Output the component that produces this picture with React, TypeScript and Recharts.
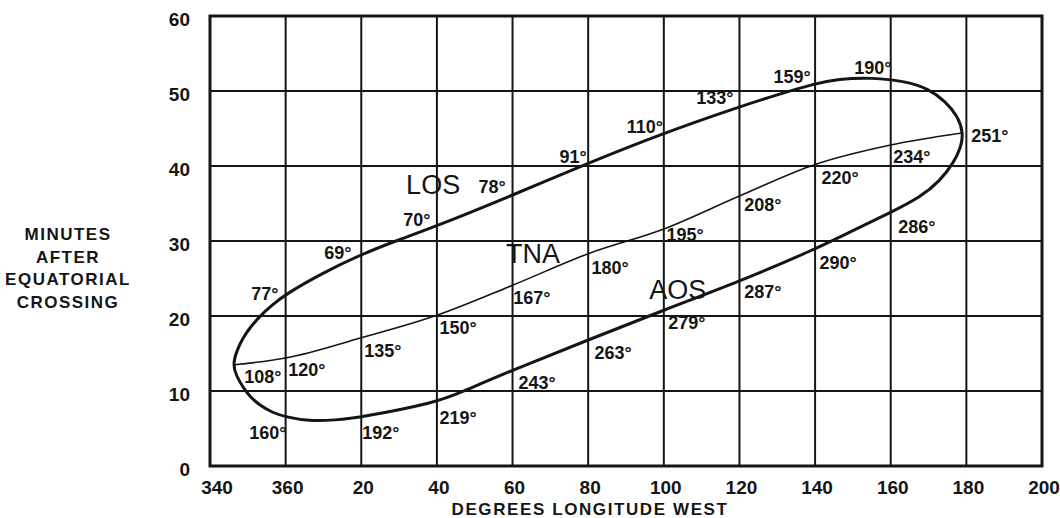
import React from 'react';
import { ComposedChart, Line, Scatter, XAxis, YAxis, CartesianGrid, ReferenceArea } from 'recharts';

// Longitude is unwrapped: 340, 360, then 380 = 20°W ... 560 = 200°W
const X_TICKS = [340, 360, 380, 400, 420, 440, 460, 480, 500, 520, 540, 560];
const Y_TICKS = [0, 10, 20, 30, 40, 50, 60];
const X_TITLE = 'DEGREES LONGITUDE WEST';
const Y_TITLE = ['MINUTES', 'AFTER', 'EQUATORIAL', 'CROSSING'];

// Outer closed contour: AOS (lower) -> right end -> LOS (upper) -> left end
const contour = [
  { v: 440, m: 16.8 },
  { v: 460, m: 20.8 },
  { v: 480, m: 24.6 },
  { v: 500, m: 28.9 },
  { v: 510, m: 31.4 },
  { v: 520, m: 33.8 },
  { v: 528, m: 35.9 },
  { v: 533, m: 38.0 },
  { v: 536.6, m: 40.4 },
  { v: 538.6, m: 42.5 },
  { v: 539.2, m: 44.4 },
  { v: 537.8, m: 46.6 },
  { v: 534.5, m: 48.6 },
  { v: 530, m: 50.3 },
  { v: 524, m: 51.3 },
  { v: 515, m: 51.8 },
  { v: 506, m: 51.6 },
  { v: 500, m: 51.0 },
  { v: 490, m: 49.5 },
  { v: 480, m: 47.9 },
  { v: 460, m: 44.4 },
  { v: 440, m: 40.4 },
  { v: 420, m: 36.1 },
  { v: 400, m: 32.0 },
  { v: 389, m: 30.0 },
  { v: 380, m: 28.2 },
  { v: 370, m: 25.8 },
  { v: 360, m: 22.9 },
  { v: 356.5, m: 21.5 },
  { v: 353.2, m: 20.0 },
  { v: 350.5, m: 18.4 },
  { v: 348.6, m: 17.0 },
  { v: 347.1, m: 15.4 },
  { v: 346.0, m: 13.5 },
  { v: 347.0, m: 12.0 },
  { v: 348.7, m: 10.5 },
  { v: 350.8, m: 9.1 },
  { v: 353.2, m: 8.1 },
  { v: 356.5, m: 7.1 },
  { v: 360.4, m: 6.5 },
  { v: 366, m: 6.0 },
  { v: 373, m: 6.1 },
  { v: 380, m: 6.5 },
  { v: 400, m: 8.5 },
  { v: 406, m: 9.75 },
  { v: 420, m: 12.8 },
];

// TNA line
const tna = [
  { v: 346.4, m: 13.5 },
  { v: 360, m: 14.4 },
  { v: 380, m: 17.1 },
  { v: 400, m: 20.1 },
  { v: 420, m: 24.1 },
  { v: 440, m: 28.3 },
  { v: 460, m: 31.6 },
  { v: 480, m: 36.0 },
  { v: 500, m: 40.2 },
  { v: 520, m: 42.8 },
  { v: 538.8, m: 44.4 },
];

const degreeLabels = [
  { v: 493.9, m: 51.9, t: '159°' },
  { v: 515.3, m: 53.1, t: '190°' },
  { v: 473.5, m: 49.1, t: '133°' },
  { v: 455.0, m: 45.2, t: '110°' },
  { v: 436.0, m: 41.2, t: '91°' },
  { v: 414.6, m: 37.2, t: '78°' },
  { v: 394.7, m: 32.8, t: '70°' },
  { v: 373.8, m: 28.5, t: '69°' },
  { v: 354.5, m: 23.0, t: '77°' },
  { v: 546.2, m: 44.1, t: '251°' },
  { v: 525.6, m: 41.3, t: '234°' },
  { v: 506.6, m: 38.4, t: '220°' },
  { v: 486.2, m: 34.8, t: '208°' },
  { v: 465.6, m: 30.8, t: '195°' },
  { v: 445.8, m: 26.4, t: '180°' },
  { v: 425.1, m: 22.5, t: '167°' },
  { v: 405.6, m: 18.4, t: '150°' },
  { v: 385.7, m: 15.4, t: '135°' },
  { v: 365.6, m: 12.8, t: '120°' },
  { v: 354.0, m: 11.9, t: '108°' },
  { v: 526.9, m: 31.9, t: '286°' },
  { v: 506.1, m: 27.1, t: '290°' },
  { v: 486.2, m: 23.2, t: '287°' },
  { v: 466.1, m: 19.1, t: '279°' },
  { v: 446.6, m: 15.1, t: '263°' },
  { v: 426.5, m: 11.1, t: '243°' },
  { v: 405.6, m: 6.4, t: '219°' },
  { v: 385.2, m: 4.5, t: '192°' },
  { v: 355.3, m: 4.5, t: '160°' },
];

const curveNames = [
  { v: 399.0, m: 37.5, t: 'LOS' },
  { v: 425.4, m: 28.4, t: 'TNA' },
  { v: 463.7, m: 23.5, t: 'AOS' },
];

const INK = '#151515';
const FONT = '"Liberation Sans", Arial, sans-serif';

const fmtX = (v: number) => (v > 360 ? v - 360 : v);

const XTick = (props: any) => {
  const { x, y, payload, index } = props;
  return (
    <text x={x + (index === 0 ? 7 : 2)} y={y + 21} dy="0.36em" textAnchor="middle"
      fontFamily={FONT} fontWeight={700} fontSize={19} fill={INK}>
      {fmtX(payload.value)}
    </text>
  );
};

const YTick = (props: any) => {
  const { x, y, payload } = props;
  return (
    <text x={x - 20} y={y + 3} dy="0.36em" textAnchor="end"
      fontFamily={FONT} fontWeight={700} fontSize={19} fill={INK}>
      {payload.value}
    </text>
  );
};

const DegreeShape = (props: any) => {
  const { cx, cy, payload } = props;
  return (
    <text x={cx} y={cy} dy="0.36em" textAnchor="middle" fontFamily={FONT}
      fontWeight={700} fontSize={18} fill={INK}>
      {payload.t}
    </text>
  );
};

const NameShape = (props: any) => {
  const { cx, cy, payload } = props;
  return (
    <text x={cx} y={cy} dy="0.36em" textAnchor="middle" fontFamily={FONT}
      fontWeight={400} fontSize={27} fill={INK}>
      {payload.t}
    </text>
  );
};

const XTitle = (props: any) => {
  const vb = props.viewBox || {};
  return (
    <text x={(vb.x ?? 210) + 380} y={(vb.y ?? 466) + 43} dy="0.36em" textAnchor="middle"
      fontFamily={FONT} fontWeight={700} fontSize={17} letterSpacing={1.6} fill={INK}>
      {X_TITLE}
    </text>
  );
};

const YTitle = () => (
  <g>
    {Y_TITLE.map((s, i) => (
      <text key={s} x={68} y={234 + i * 22.5} dy="0.36em" textAnchor="middle"
        fontFamily={FONT} fontWeight={700} fontSize={17} letterSpacing={1.5} fill={INK}>
        {s}
      </text>
    ))}
  </g>
);

export default function App() {
  return (
    <div style={{ position: 'absolute', left: 0, top: 0, width: 1060, height: 518, background: '#fff' }}>
      <ComposedChart width={1060} height={518} margin={{ top: 16, right: 18, bottom: 22, left: 150 }}>
        <CartesianGrid stroke={INK} strokeWidth={2} />
        <XAxis dataKey="v" type="number" domain={[340, 560]} ticks={X_TICKS} interval={0}
          allowDataOverflow height={30} tickSize={0} tickMargin={0} axisLine={false} tickLine={false}
          tick={<XTick />} label={<XTitle />} />
        <YAxis dataKey="m" type="number" domain={[0, 60]} ticks={Y_TICKS} interval={0}
          allowDataOverflow width={60} tickSize={0} tickMargin={0} axisLine={false} tickLine={false}
          tick={<YTick />} label={<YTitle />} />
        <ReferenceArea x1={340} x2={560} y1={0} y2={60} fill="none" fillOpacity={0}
          stroke={INK} strokeWidth={3} />
        <Line data={contour} dataKey="m" type="basisClosed" stroke={INK} strokeWidth={3}
          dot={false} activeDot={false} isAnimationActive={false} />
        <Line data={tna} dataKey="m" type="monotone" stroke={INK} strokeWidth={1.6}
          dot={false} activeDot={false} isAnimationActive={false} />
        <Scatter data={degreeLabels} dataKey="m" shape={<DegreeShape />} isAnimationActive={false} />
        <Scatter data={curveNames} dataKey="m" shape={<NameShape />} isAnimationActive={false} />
      </ComposedChart>
    </div>
  );
}
